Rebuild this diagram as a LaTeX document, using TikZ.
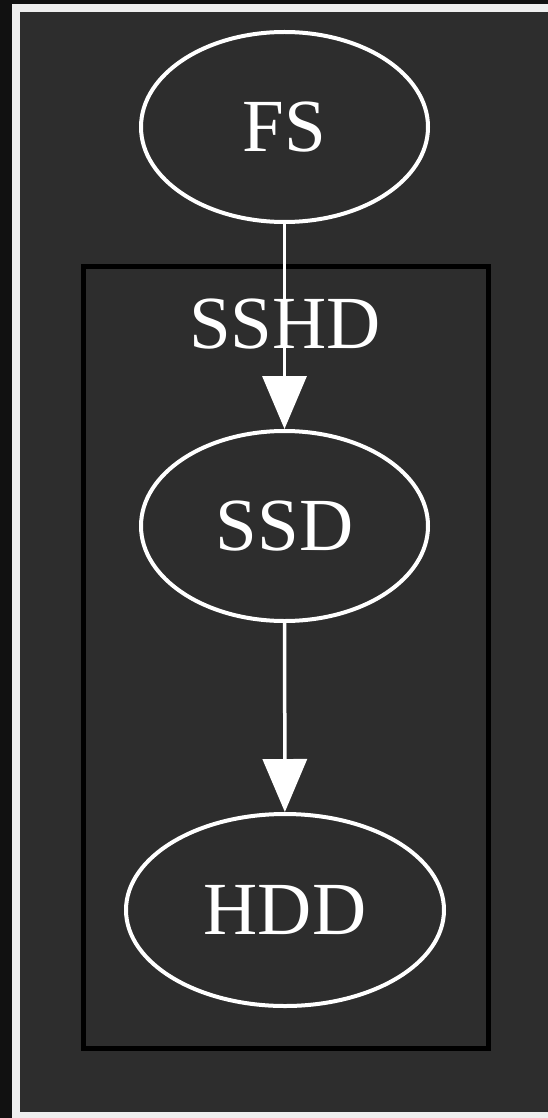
\documentclass[tikz,border=0pt]{standalone}
\usepackage{fontspec}
\setmainfont{Liberation Serif}
\usetikzlibrary{shapes.geometric,arrows.meta}
\definecolor{pagebg}{HTML}{111111}
\definecolor{frame}{HTML}{EEEEEE}
\definecolor{canvas}{HTML}{2D2D2D}
\tikzset{
  x=1pt, y=-1pt,
  label text/.style={text=white, font=\fontsize{75}{78}\selectfont},
  state/.style={ellipse, draw=white, line width=4pt, inner sep=0pt, label text},
  flow/.style={draw=white, line width=3.5pt,
    -{Triangle[length=53pt, width=44pt]}},
  group/.style={draw=black, line width=4.5pt},
}
\begin{document}
\begin{tikzpicture}
  % page, frame and canvas
  \fill[pagebg] (0,0) rectangle (548,1118);
  \fill[frame] (12,4) rectangle (548,1118);
  \fill[canvas] (20,12) rectangle (548,1112);
  \useasboundingbox (0,0) rectangle (548,1118);

  % cluster
  \draw[group] (83.5,266.5) rectangle (488.5,1048.5);
  \node[label text] (sshd) at (285,324) {SSHD};

  % nodes
  \node[state, minimum width=287pt, minimum height=190pt] (fs) at (284.5,127) {FS};
  \node[state, minimum width=287pt, minimum height=190pt] (ssd) at (284.5,526) {SSD};
  \node[state, minimum width=318pt, minimum height=192pt] (hdd) at (285,910) {HDD};

  % edges
  \draw[flow] (fs) -- (ssd);
  \draw[flow] (ssd) -- (hdd);
\end{tikzpicture}
\end{document}
